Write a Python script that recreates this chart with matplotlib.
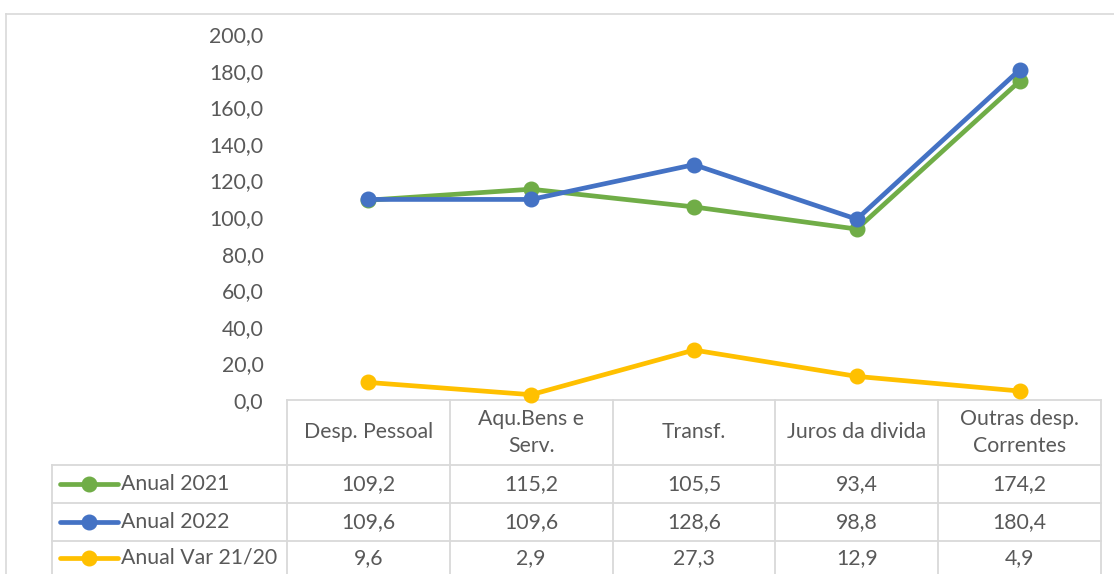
import matplotlib
matplotlib.use("Agg")
import matplotlib.pyplot as plt

categories = ["Desp. Pessoal", "Aqu.Bens e\nServ.", "Transf.", "Juros da divida", "Outras desp.\nCorrentes"]
series_names = ["Anual 2021", "Anual 2022", "Anual Var 21/20"]
anual_2021 = [109.2, 115.2, 105.5, 93.4, 174.2]
anual_2022 = [109.6, 109.6, 128.6, 98.8, 180.4]
anual_var = [9.6, 2.9, 27.3, 12.9, 4.9]
y_ticks = [0, 20, 40, 60, 80, 100, 120, 140, 160, 180, 200]

colors = ["#70AD47", "#4472C4", "#FFC000"]
series = [anual_2021, anual_2022, anual_var]

plt.rcParams['font.family'] = ['Lato', 'DejaVu Sans']
TXT = "#595959"
GRID = "#D9D9D9"
FS = 15.3
W, H = 1114, 574
fig = plt.figure(figsize=(W / 100, H / 100), dpi=100)

# overlay in pixel coords
ov = fig.add_axes([0, 0, 1, 1])
ov.set_xlim(0, W)
ov.set_ylim(H, 0)
ov.axis("off")

# plot area
px0, px1, py0, py1 = 287, 1101, 400, 34
ax = fig.add_axes([px0 / W, 1 - py0 / H, (px1 - px0) / W, (py0 - py1) / H])
ax.set_xlim(-0.5, len(categories) - 0.5)
ax.set_ylim(0, 200)
for s in ax.spines.values():
    s.set_visible(False)
ax.set_xticks([])
ax.set_yticks(y_ticks)
ax.set_yticklabels([f"{v:.1f}".replace(".", ",") for v in y_ticks], fontsize=FS, color=TXT)
ax.tick_params(axis="y", length=0, pad=17)
ax.patch.set_alpha(0)
x = list(range(len(categories)))
for vals, c in zip(series, colors):
    ax.plot(x, vals, color=c, lw=3.4, marker="o", ms=10.5, solid_capstyle="round", clip_on=False)

# outer frame
ov.plot([6, W], [14, 14], color=GRID, lw=1.2)
ov.plot([6, 6], [14, H], color=GRID, lw=1.2)

# table
col_edges = [287 + i * (814 / 5) for i in range(6)]
row_edges = [400, 465, 503, 541, 579]
lw = 1.3
ov.plot([col_edges[0], col_edges[-1]], [400, 400], color=GRID, lw=lw)
for yv in row_edges[1:4]:
    ov.plot([52, col_edges[-1]], [yv, yv], color=GRID, lw=lw)
for xv in col_edges:
    ov.plot([xv, xv], [400, H], color=GRID, lw=lw)
ov.plot([52, 52], [465, H], color=GRID, lw=lw)

for i, cat in enumerate(categories):
    cx = (col_edges[i] + col_edges[i + 1]) / 2
    ov.text(cx, (row_edges[0] + row_edges[1]) / 2, cat, ha="center", va="center",
            fontsize=FS, color=TXT, linespacing=1.4)
for r, (name, vals, c) in enumerate(zip(series_names, series, colors)):
    cy = (row_edges[r + 1] + row_edges[r + 2]) / 2
    if r == 2:
        cy = 558
    ov.plot([60, 118], [cy, cy], color=c, lw=3.4, solid_capstyle="round")
    ov.plot([89], [cy], color=c, marker="o", ms=10.5)
    ov.text(121, cy, name, ha="left", va="center", fontsize=FS, color=TXT)
    for i, v in enumerate(vals):
        cx = (col_edges[i] + col_edges[i + 1]) / 2
        ov.text(cx, cy, f"{v:.1f}".replace(".", ","), ha="center", va="center",
                fontsize=FS, color=TXT)

fig.savefig("out.png", dpi=100)
